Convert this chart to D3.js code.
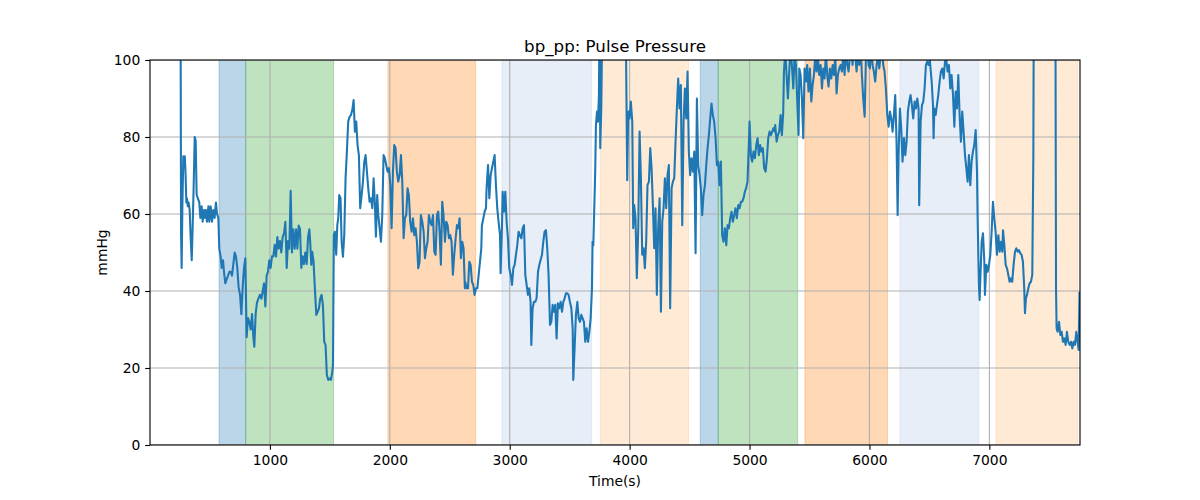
<!DOCTYPE html>
<html>
<head>
<meta charset="utf-8">
<script src="https://cdn.jsdelivr.net/npm/d3@7"></script>
<style>
  html, body { margin: 0; padding: 0; background: #fff; }
  svg { display: block; font-family: "DejaVu Sans", sans-serif; }
</style>
</head>
<body>
<svg id="chart" width="1200" height="500"></svg>
<script>
// ---------- data ----------
const chartTitle = "bp_pp: Pulse Pressure";
const xLabel = "Time(s)";
const yLabel = "mmHg";
const xTicks = [1000, 2000, 3000, 4000, 5000, 6000, 7000];
const yTicks = [0, 20, 40, 60, 80, 100];
const xDomain = [0, 7756];
const yDomain = [0, 100];

// shaded phases (time in s)
const spanStarts = [576, 798, 1984, 2935, 3755, 4589, 4739, 5462, 6254, 7055];
const spanEnds   = [798, 1531, 2716, 3683, 4491, 4739, 5401, 6151, 6913, 7736];
const spanColors = ["#1f77b4", "#2ca02c", "#ff7f0e", "#aec7e8", "#ffbb78",
                    "#1f77b4", "#2ca02c", "#ff7f0e", "#aec7e8", "#ffbb78"];

// pulse pressure readings [time s, mmHg]
const pulsePressure = [
[252,160],[259,55],[264,46],[270,62],[278,75],[284,72],[290,75],[297,70],[303,63],[309,64],[315,62],[322,63],[331,61],[339,54],[348,48],[356,57],[364,67],[373,80],[381,79],[389,65],[400,64],[411,63],[420,59],[431,62],[439,58],[450,61],[459,59],[467,61],[475,58],[487,62],[495,58],[506,62],[517,58],[528,61],[539,59],[550,63],[559,60],[570,59],[578,51],[589,49],[598,46],[609,48],[617,45],[628,42],[639,43],[651,44],[662,45],[673,45],[684,44],[695,47],[706,50],[717,49],[728,46],[739,41],[751,39],[762,34],[773,41],[784,46],[795,48.5],[806,28],[817,33],[828,32],[840,30],[851,34],[862,28],[870,25.5],[881,34],[892,37],[904,38],[917,39],[929,38],[940,40],[951,42],[962,36],[973,44],[984,45],[995,48],[1006,46],[1017,49],[1029,49],[1040,52],[1051,49],[1062,54],[1073,51],[1084,53],[1095,50],[1106,54],[1118,55],[1129,58],[1140,46],[1151,53],[1162,51],[1173,66],[1184,50],[1195,56],[1207,51],[1218,56],[1229,51],[1240,57],[1251,56],[1262,46],[1273,49],[1284,47],[1295,50],[1307,47],[1318,54],[1329,56],
[1336,52.8],[1345,46.8],[1353,50.2],[1364,47.6],[1375,40.7],[1387,33.8],[1398,34.6],[1409,35.5],[1420,38.1],[1431,39.0],[1442,36.4],[1453,26.8],[1464,26.0],[1475,18.2],[1487,16.9],[1498,17.3],[1509,16.9],[1520,19.0],[1526,20.8],[1533,54.5],[1542,55.4],[1553,49.4],[1562,57.1],[1570,58.9],[1578,64.9],[1589,64.1],[1598,52.8],[1609,48.9],[1620,54.5],[1631,69.3],[1642,76.2],[1653,84.0],[1665,85.3],[1676,85.7],[1687,87.0],[1698,89.6],[1709,81.4],[1720,84.0],[1731,77.9],[1742,75.3],[1753,61.5],[1765,64.9],[1776,68.4],[1787,73.6],[1798,75.3],[1809,71.0],[1820,66.7],[1831,63.2],[1842,64.1],[1854,61.5],[1865,69.3],[1876,62.3],[1884,54.1],[1895,64.9],[1904,59.7],[1915,56.3],[1926,52.8],[1937,59.7],[1948,75.3],[1959,74.5],[1970,72.7],[1981,71.0],[1993,71.9],[2004,67.5],[2015,56.3],[2026,71.0],[2037,77.9],[2048,77.1],[2059,71.0],[2070,68.4],[2082,70.1],[2093,75.3],[2104,68.4],[2115,53.7],[2126,58.9],[2137,59.7],[2148,66.7],[2159,64.9],[2170,58.0],[2182,55.4],[2193,58.9],[2204,54.5],[2215,56.3],[2226,52.8],[2237,45.9],[2248,47.6],[2259,59.7],[2271,58.0],[2282,55.4],[2293,48.5],[2304,51.1],[2315,52.8],[2326,59.7],[2337,58.0],[2348,57.1],[2360,59.7],[2371,50.2],[2382,49.4],[2393,59.7],[2404,60.6],[2415,55.4],[2426,46.8],[2437,63.2],[2448,59.7],[2460,52.8],[2471,58.0],[2482,57.1],[2493,53.7],[2504,54.5],[2515,52.8],[2526,44.2],[2537,49.4],[2549,53.7],[2560,57.1],[2571,56.3],[2582,58.9],[2593,48.5],[2604,52.8],[2615,51.1],[2626,40.7],
[2629,42.4],[2641,40.7],[2652,40.7],[2663,47.6],[2674,46.8],[2685,42.4],[2696,41.6],[2707,39.0],[2718,40.7],[2730,40.7],[2741,44.2],[2752,47.6],[2763,51.1],[2768,57.1],[2780,58.9],[2791,60.6],[2802,61.5],[2807,66.7],[2819,72.7],[2830,64.1],[2841,70.1],[2852,71.9],[2863,73.6],[2874,75.3],[2885,67.5],[2896,61.5],[2907,58.0],[2919,54.5],[2924,44.6],[2935,56.3],[2941,65.8],[2952,60.6],[2963,65.8],[2974,58.0],[2985,53.7],[2996,45.9],[3008,44.2],[3019,41.6],[3030,45.9],[3041,46.8],[3052,49.4],[3063,51.9],[3074,55.4],[3085,54.5],[3097,53.7],[3108,56.3],[3119,57.1],[3130,44.2],[3141,41.6],[3152,39.0],[3163,40.7],[3174,37.2],[3180,26.0],[3191,35.5],[3202,37.2],[3213,37.2],[3224,38.1],[3236,45.0],[3247,46.8],[3258,48.1],[3269,49.4],[3280,52.8],[3291,55.4],[3302,55.8],[3313,51.1],[3324,44.2],[3336,31.2],[3347,32.0],[3358,36.4],[3369,34.6],[3380,36.4],[3391,27.7],[3402,36.8],[3413,35.5],[3425,37.2],[3436,34.6],[3447,37.2],[3458,38.1],[3469,39.4],[3480,39.4],[3491,39.0],[3502,37.2],[3514,35.5],[3525,30.3],[3530,16.9],[3541,25.1],[3552,33.8],[3564,37.2],[3575,32.9],[3586,32.0],[3597,33.8],[3608,32.9],[3619,32.0],[3630,26.8],[3641,30.3],[3653,26.8],[3664,29.4],[3675,32.9],[3686,40.7],[3691,52.8],[3697,51.9],[3708,64.9],[3714,72.7],[3719,83.1],[3728,86.6],[3736,84.0],[3744,90.9],[3750,115],[3755,77.1],[3764,88.3],[3775,120],[3800,118],[3840,122],[3880,118],[3930,112],[3966,115],
[3980,68.8],[3988,86.6],[3999,84.8],[4010,89.2],[4022,84.0],[4030,56.3],[4038,62.3],[4049,58.9],[4060,43.3],[4072,56.3],[4083,81.4],[4094,69.3],[4105,49.4],[4116,51.1],[4127,45.9],[4138,52.8],[4149,67.5],[4161,68.4],[4172,77.1],[4183,71.9],[4194,62.3],[4205,51.1],[4216,61.5],[4227,39.0],[4238,56.3],[4250,64.1],[4261,34.6],[4272,58.0],[4283,61.5],[4294,69.3],[4305,61.5],[4316,70.1],[4327,72.7],[4338,35.5],[4350,66.7],[4361,68.4],[4372,69.3],[4383,78.8],[4394,87.4],[4405,95.2],[4416,87.4],[4427,93.5],[4439,57.1],[4450,84.0],[4461,92.6],[4472,84.8],[4483,97.0],[4494,76.2],[4505,70.1],[4516,74.5],[4528,71.0],[4539,76.2],[4550,49.8],[4561,90.0],[4572,72.7],[4583,70.1],[4594,66.7],[4605,59.7],[4616,64.9],[4628,67.5],[4639,72.7],[4650,77.1],[4661,80.5],[4672,84.8],[4683,88.7],[4694,85.7],[4705,84.0],[4717,79.7],[4728,72.7],[4739,73.6],[4750,67.5],[4761,73.6],[4772,54.5],[4783,52.8],[4794,56.3],[4806,51.9],[4817,57.1],[4828,56.3],[4839,58.9],[4850,60.6],[4861,58.0],[4872,59.7],[4883,61.5],[4894,58.9],[4906,62.3],[4917,61.5],[4928,63.2],[4939,63.2],[4950,64.1],[4961,65.8],[4972,66.7],[4983,68.4],[4995,78.8],[5000,84.0],[5011,75.3],[5022,73.6],[5033,76.2],[5045,74.5],[5056,77.9],[5067,79.7],[5078,75.3],[5089,77.9],[5100,76.2],[5111,77.1],[5122,71.9],[5134,71.0],[5145,74.5],[5156,79.7],[5167,81.4],[5178,80.5],[5189,81.4],[5200,82.3],[5211,81.4],
[5214,83.1],[5226,78.8],[5237,80.5],[5248,81.4],[5259,85.7],[5270,80.5],[5281,86.6],[5287,97.0],[5298,102],[5309,96.1],[5320,90.0],[5331,97.0],[5342,103],[5353,98.7],[5365,92.6],[5376,101],[5387,98.7],[5398,89.2],[5409,80.5],[5415,97.8],[5426,96.1],[5437,90.0],[5448,79.7],[5459,97.8],[5470,94.4],[5481,98.7],[5492,91.8],[5504,97.8],[5515,89.2],[5526,93.5],[5537,96.1],[5548,101],[5559,97.0],[5570,101],[5581,96.1],[5593,98.7],[5604,92.6],[5615,97.8],[5626,95.2],[5637,102],[5648,96.1],[5659,93.1],[5670,97.8],[5682,95.2],[5693,98.7],[5704,96.1],[5715,101],[5726,91.3],[5737,96.1],[5748,97.8],[5759,98.7],[5770,97.0],[5782,101],[5793,96.1],[5804,104],[5815,98.7],[5826,97.0],[5837,101],[5848,104],[5859,98.7],[5871,104],[5882,101],[5893,97.0],[5904,102],[5915,98.7],[5926,104],[5937,96.1],[5948,90.0],[5960,85.3],[5971,101],[5982,104],[5993,98.7],[6004,97.8],[6015,104],[6026,98.7],[6037,97.0],[6048,94.4],[6060,98.7],[6071,101],[6082,97.8],[6093,101],[6104,104],[6115,98.7],[6126,97.0],[6137,92.6],[6149,85.7],[6160,82.7],[6171,86.6],[6182,84.8],[6193,81.4],[6204,85.7],[6215,90.9],[6226,78.8],[6235,59.7],[6243,75.3],[6254,87.4],[6265,82.3],[6276,73.6],[6288,79.7],[6299,75.3],[6310,78.8],[6321,86.6],[6332,89.2],[6343,90.9],[6354,88.3],[6365,84.8],[6377,89.2],[6388,87.4],[6399,90.0],[6410,87.4],[6415,62.3],[6427,84.0],[6438,88.3],[6449,89.2],[6460,92.6],[6471,98.7],[6482,99.6],[6493,98.7],[6504,100],
[6507,98.7],[6519,94.4],[6530,88.3],[6535,79.7],[6541,87.4],[6552,85.7],[6563,88.3],[6574,90.9],[6585,94.4],[6596,97.0],[6608,97.8],[6619,95.2],[6630,99.6],[6641,100],[6652,97.0],[6663,98.7],[6674,92.6],[6685,96.1],[6697,90.9],[6708,82.7],[6719,91.8],[6730,87.4],[6741,96.1],[6752,85.7],[6763,78.8],[6774,86.6],[6785,81.4],[6797,75.3],[6808,71.9],[6819,68.4],[6830,75.3],[6841,67.5],[6852,73.6],[6863,76.2],[6874,77.9],[6886,81.8],[6897,71.0],[6902,59.7],[6908,49.4],[6913,41.6],[6919,37.7],[6924,42.4],[6936,52.8],[6947,55.0],[6958,47.6],[6963,39.0],[6975,46.8],[6986,45.0],[6997,46.8],[7008,49.4],[7019,55.4],[7030,63.2],[7041,58.9],[7052,55.4],[7063,49.4],[7075,54.5],[7086,50.2],[7097,52.8],[7108,50.2],[7114,55.8],[7125,51.9],[7136,46.8],[7147,45.9],[7158,44.2],[7169,42.4],[7180,43.3],[7191,42.4],[7202,46.8],[7214,50.2],[7225,51.1],[7236,50.2],[7247,50.6],[7258,49.8],[7269,49.4],[7280,47.6],[7291,40.7],[7297,34.2],[7305,38.1],[7314,39.0],[7325,40.7],[7336,42.0],[7347,42.4],[7358,44.2],[7367,75.3],[7372,130],[7400,140],[7450,150],[7500,145],[7550,130],[7556,40.7],[7561,30.3],[7569,29.4],[7581,32.0],[7592,28.6],[7603,29.4],[7614,26.8],[7625,27.7],[7636,26.0],[7647,29.4],[7658,26.8],[7670,26.0],[7681,26.8],[7692,25.1],[7703,26.8],[7714,26.0],[7725,29.4],[7736,26.8],[7745,24.7],[7752,39.8]
];

// ---------- layout ----------
const W = 1200, H = 500;
const margin = { left: 150, right: 120, top: 60, bottom: 55 };
const plotW = W - margin.left - margin.right;
const plotH = H - margin.top - margin.bottom;
const pt = 100 / 72;
const tickFont = 10 * pt, titleFont = 12 * pt;
const tickLen = 3.5 * pt;
const thin = 0.8 * pt;

const svg = d3.select("#chart");
const x = d3.scaleLinear().domain(xDomain).range([margin.left, margin.left + plotW]);
const y = d3.scaleLinear().domain(yDomain).range([margin.top + plotH, margin.top]);

svg.append("rect").attr("width", W).attr("height", H).attr("fill", "#fff");

svg.append("defs").append("clipPath").attr("id", "plotclip")
  .append("rect").attr("x", margin.left).attr("y", margin.top)
  .attr("width", plotW).attr("height", plotH);

const plot = svg.append("g").attr("clip-path", "url(#plotclip)");

// spans
const spans = spanStarts.map((s, i) => ({ s, e: spanEnds[i], c: spanColors[i] }));
plot.append("g").selectAll("rect").data(spans).join("rect")
  .attr("x", d => x(d.s))
  .attr("width", d => x(d.e) - x(d.s))
  .attr("y", margin.top - 2)
  .attr("height", plotH + 4)
  .attr("fill", d => d.c).attr("fill-opacity", 0.3)
  .attr("stroke", d => d.c).attr("stroke-opacity", 0.3).attr("stroke-width", 1);

// grid
const grid = plot.append("g").attr("stroke", "#b0b0b0").attr("stroke-width", thin);
grid.selectAll("line.gx").data(xTicks).join("line").attr("class", "gx")
  .attr("x1", d => x(d)).attr("x2", d => x(d))
  .attr("y1", margin.top).attr("y2", margin.top + plotH);
grid.selectAll("line.gy").data(yTicks).join("line").attr("class", "gy")
  .attr("x1", margin.left).attr("x2", margin.left + plotW)
  .attr("y1", d => y(d)).attr("y2", d => y(d));

// line
const line = d3.line().x(d => x(d[0])).y(d => y(d[1]));
plot.append("path").datum(pulsePressure)
  .attr("d", line)
  .attr("fill", "none")
  .attr("stroke", "#1f77b4")
  .attr("stroke-width", 1.5 * pt)
  .attr("stroke-linejoin", "round")
  .attr("stroke-linecap", "butt");

// axes
const xAxis = d3.axisBottom(x).tickValues(xTicks).tickFormat(d3.format("d"))
  .tickSize(tickLen).tickPadding(5.6);
const gx = svg.append("g").attr("transform", `translate(0,${margin.top + plotH})`).call(xAxis);
const yAxis = d3.axisLeft(y).tickValues(yTicks).tickFormat(d3.format("d"))
  .tickSize(tickLen).tickPadding(tickLen);
const gy = svg.append("g").attr("transform", `translate(${margin.left},0)`).call(yAxis);
[gx, gy].forEach(g => {
  g.select(".domain").remove();
  g.selectAll(".tick line").attr("stroke", "#000").attr("stroke-width", thin);
  g.selectAll(".tick text").attr("fill", "#000")
    .style("font-family", "'DejaVu Sans', sans-serif").style("font-size", tickFont + "px");
});

// spines
svg.append("rect").attr("x", margin.left).attr("y", margin.top)
  .attr("width", plotW).attr("height", plotH)
  .attr("fill", "none").attr("stroke", "#000").attr("stroke-width", thin);

// labels
svg.append("text").attr("x", margin.left + plotW / 2).attr("y", margin.top - 6 * pt)
  .attr("text-anchor", "middle").style("font-size", titleFont + "px").text(chartTitle);
svg.append("text").attr("x", margin.left + plotW / 2).attr("y", 486)
  .attr("text-anchor", "middle").style("font-size", tickFont + "px").text(xLabel);
svg.append("text").attr("transform", `translate(107,${margin.top + plotH / 2}) rotate(-90)`)
  .attr("text-anchor", "middle").style("font-size", tickFont + "px").text(yLabel);
</script>
</body>
</html>
